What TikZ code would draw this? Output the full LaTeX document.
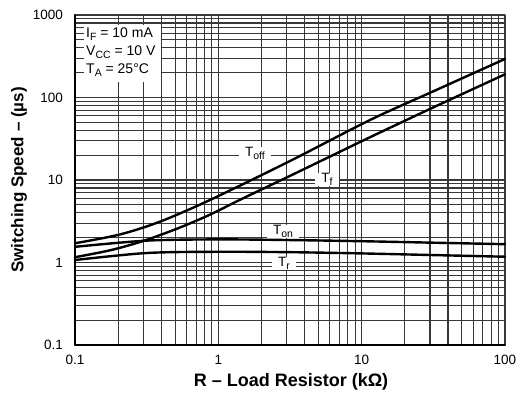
\documentclass[tikz,border=0pt]{standalone}
\usepackage{fontspec}
\setmainfont{Liberation Sans}
\newcommand{\lowsub}[1]{\raisebox{-2.6pt}{\fontsize{10.5}{11}\selectfont #1}}
\begin{document}
\begin{tikzpicture}[x=1pt,y=1pt,line join=round,line cap=round]
	\tikzset{grid line/.style={black!78,line width=1.15pt},
		curve/.style={line width=2.4pt},
		tick label/.style={font=\fontsize{13.5}{15}\selectfont},
		legend text/.style={font=\fontsize{14}{16}\selectfont,anchor=base west,inner sep=0pt},
		curve label/.style={fill=white,inner xsep=6pt,inner ysep=0.5pt,anchor=base,font=\fontsize{13.5}{15}\selectfont},
		axis label/.style={font=\fontsize{18}{21}\selectfont\bfseries}}
	\useasboundingbox (0,0) rectangle (517,396);
	\begin{scope}[shift={(75,51)},x=143.33pt,y=82.5pt]
		% grid, one line for every 1..9 of each decade
		\foreach \d in {0,1,2}
		\foreach \m in {1,...,9}
		\draw[grid line] ({\d+log10(\m)},0)--({\d+log10(\m)},4);
		\foreach \d in {0,1,2,3}
		\foreach \m in {1,...,9}
		\draw[grid line] (0,{\d+log10(\m)})--(3,{\d+log10(\m)});
		\draw[grid line] (3,0)--(3,4) (0,4)--(3,4);
		\draw[line width=1.9pt] (0,4)--(0,0)--(3,0);
		% tick labels
		\foreach \v/\t in {0/0.1,1/1,2/10,3/100,4/1000}
		\node[tick label,anchor=east] (ylab\v) at (-0.06,\v) {\t};
		\foreach \u/\t in {0/0.1,1/1,2/10,3/100}
		\node[tick label] (xlab\u) at (\u,-0.18) {\t};
	\end{scope}
	% legend
	\fill[white] (84,314) rectangle (161,371);
	\node[legend text] (iF) at (86,358) {I\lowsub{F} = 10 mA};
	\node[legend text] (vCC) at (86,340) {V\lowsub{CC} = 10 V};
	\node[legend text] (tA) at (86,322) {T\lowsub{A} = 25°C};
	% curve labels
	\node[curve label] (toff) at (255,239) {T\lowsub{off}};
	\node[curve label] (tf) at (327,213) {T\lowsub{f}};
	\node[curve label] (ton) at (283,161) {T\lowsub{on}};
	\node[curve label] (tr) at (284,129) {T\lowsub{r}};
	\begin{scope}[shift={(75,51)},x=143.33pt,y=82.5pt]
		\draw[curve] plot[smooth] coordinates {(0,1.233) (0.314,1.34) (0.593,1.495) (0.942,1.758) (1.5,2.23) (2.058,2.727) (2.5,3.075) (3,3.467)};
		\draw[curve] plot[smooth] coordinates {(0,1.064) (0.25,1.15) (0.474,1.26) (0.712,1.41) (0.942,1.58) (1.151,1.76) (1.5,2.05) (2.058,2.518) (2.5,2.88) (3,3.281)};
		\draw[curve] plot[smooth] coordinates {(0,1.19) (0.5,1.265) (1,1.28) (1.5,1.272) (2,1.258) (2.5,1.24) (3,1.222)};
		\draw[curve] plot[smooth] coordinates {(0,1.03) (0.5,1.115) (1,1.13) (1.5,1.125) (2,1.11) (2.5,1.09) (3,1.07)};
	\end{scope}
	% axis titles
	\node[axis label] (xtitle) at (291,14) {R – Load Resistor (kΩ)};
	\node[axis label,font=\fontsize{17}{20}\selectfont\bfseries,rotate=90] (ytitle) at (19,216) {Switching Speed – (µs)};
\end{tikzpicture}
\end{document}
